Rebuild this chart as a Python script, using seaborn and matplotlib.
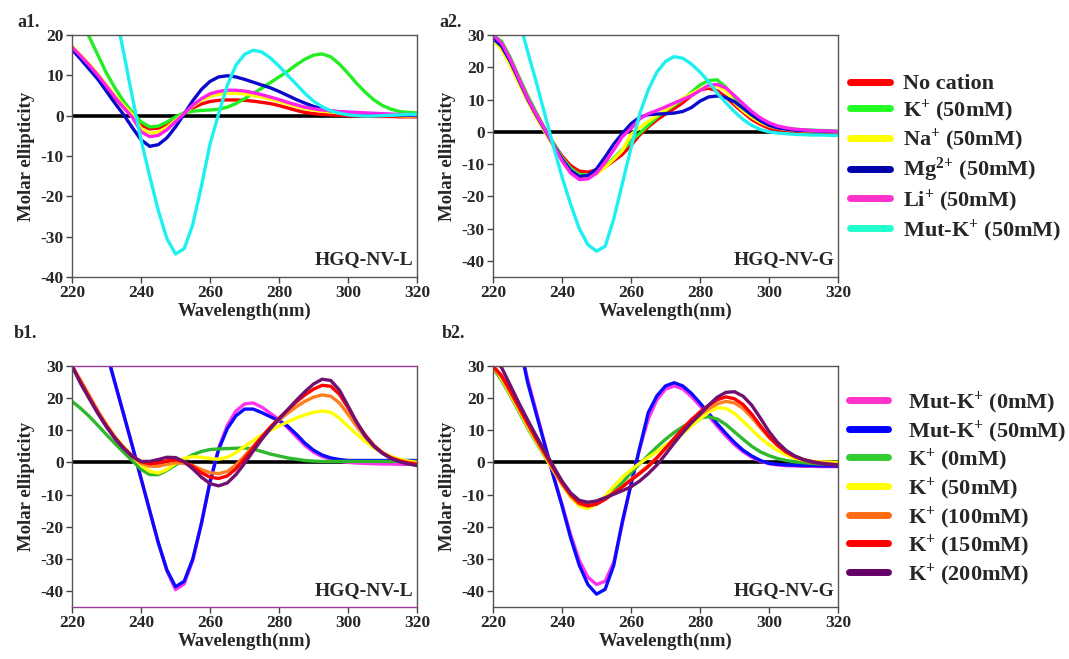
import numpy as np
import pandas as pd
import seaborn as sns
import matplotlib
matplotlib.use("Agg")
import matplotlib.pyplot as plt
from matplotlib.lines import Line2D

# ---------------------------------------------------------------- data
wavelength = np.arange(220.0, 320.01, 2.5)  # nm, 41 points

baseline = [0.0] * 41

# Panel a1: HGQ-NV-L with different cations
a1_no_cation = [16.5, 14.5, 12.3, 9.8, 7.0, 4.3, 2.0, -0.3, -2.3, -3.3, -3.1, -2.2, -0.8, 0.6, 1.9, 2.9,
                3.5, 3.8, 3.9, 3.9, 3.8, 3.6, 3.3, 3.0, 2.5, 1.9, 1.3, 0.8, 0.5, 0.3, 0.2, 0.1, 0.0, -0.1,
                -0.1, -0.2, -0.2, -0.2, -0.3, -0.3, -0.3]
a1_k = [26.0, 23.0, 19.5, 15.0, 10.5, 6.8, 3.5, 0.8, -1.5, -2.8, -2.6, -1.6, -0.3, 0.7, 1.1, 1.3,
        1.4, 1.6, 2.1, 3.0, 4.2, 5.5, 6.8, 8.2, 9.6, 11.0, 12.6, 14.0, 15.0, 15.3, 14.6, 12.8, 10.5, 8.0,
        5.8, 3.9, 2.5, 1.6, 1.0, 0.8, 0.7]
a1_na = [17.3, 15.0, 12.8, 10.3, 7.6, 4.9, 2.5, 0.2, -3.2, -4.4, -4.1, -2.9, -1.2, 0.5, 2.4, 3.8,
         4.8, 5.3, 5.5, 5.5, 5.4, 5.0, 4.6, 4.1, 3.5, 2.9, 2.3, 1.8, 1.4, 1.1, 0.9, 0.7, 0.5, 0.4,
         0.3, 0.2, 0.1, 0.1, 0.0, -0.1, -0.1]
a1_mg = [16.4, 14.0, 11.5, 9.0, 6.0, 3.0, 0.2, -3.0, -6.0, -7.6, -7.2, -5.5, -2.8, 0.4, 3.7, 6.5,
         8.5, 9.6, 9.9, 9.6, 9.0, 8.3, 7.6, 6.9, 6.0, 5.0, 4.0, 3.1, 2.3, 1.7, 1.2, 0.9, 0.7, 0.5,
         0.4, 0.3, 0.3, 0.2, 0.1, 0.1, 0.0]
a1_li = [17.0, 14.8, 12.5, 10.0, 7.3, 4.5, 2.0, -0.4, -4.0, -5.2, -4.9, -3.5, -1.5, 0.5, 2.6, 4.2,
         5.4, 6.0, 6.3, 6.3, 6.1, 5.7, 5.2, 4.6, 4.0, 3.3, 2.7, 2.1, 1.7, 1.4, 1.2, 1.0, 0.9, 0.8,
         0.7, 0.6, 0.5, 0.4, 0.3, 0.3, 0.2]
a1_mut_k = [68.0, 62.0, 55.0, 46.0, 36.0, 26.0, 15.5, 4.5, -6.0, -15.0, -23.5, -30.5, -34.3, -33.0,
            -27.0, -17.5, -7.0, 0.5, 7.5, 12.5, 15.2, 16.2, 15.8, 14.3, 12.3, 10.0, 7.8, 5.5, 3.6,
            2.2, 1.2, 0.6, 0.2, 0.0, -0.1, -0.1, 0.0, 0.1, 0.2, 0.3, 0.3]

# Panel a2: HGQ-NV-G with different cations
a2_no_cation = [29.5, 27.5, 22.5, 16.8, 11.0, 5.8, 0.8, -3.6, -7.5, -10.5, -12.2, -12.5, -11.8, -10.9,
                -9.0, -7.0, -4.2, -1.0, 1.5, 3.7, 5.5, 7.2, 9.0, 11.2, 13.0, 13.5, 12.7, 10.8, 8.3,
                6.0, 3.8, 2.3, 1.1, 0.5, 0.2, 0.1, 0.0, 0.0, 0.0, -0.1, -0.1]
a2_k = [30.0, 28.0, 23.0, 17.0, 11.2, 6.0, 1.0, -3.5, -8.0, -11.3, -13.2, -13.4, -12.5, -10.6, -8.2,
        -5.5, -2.8, -0.5, 2.0, 4.5, 6.5, 8.2, 10.0, 12.2, 14.5, 15.9, 16.1, 13.8, 10.6, 7.8, 5.5,
        3.8, 2.6, 1.7, 1.1, 0.8, 0.6, 0.5, 0.4, 0.3, 0.2]
a2_na = [28.5, 25.5, 20.5, 15.0, 9.5, 4.5, 0.0, -4.5, -8.8, -12.0, -13.7, -14.0, -13.0, -11.0, -8.5,
         -5.8, -0.8, 1.3, 3.2, 5.0, 6.8, 8.6, 10.3, 11.8, 13.2, 14.2, 14.2, 12.8, 9.0, 6.5, 4.5,
         2.9, 1.8, 1.1, 0.7, 0.5, 0.3, 0.2, 0.1, 0.1, 0.0]
a2_mg = [29.0, 26.5, 21.8, 16.0, 10.2, 5.2, 0.6, -4.0, -8.5, -12.0, -13.8, -13.6, -11.5, -7.8, -3.8,
         -0.5, 2.5, 4.5, 5.3, 5.5, 5.6, 5.8, 6.3, 7.5, 9.5, 10.8, 11.1, 10.6, 9.3, 7.3, 5.2, 3.4,
         2.0, 1.2, 0.8, 0.5, 0.4, 0.3, 0.2, 0.1, 0.0]
a2_li = [30.0, 27.5, 22.5, 16.5, 10.5, 5.5, 0.8, -4.0, -9.0, -12.8, -14.8, -14.6, -12.8, -9.5, -5.6,
         -1.5, 1.0, 4.0, 5.6, 6.6, 7.7, 8.9, 10.0, 11.2, 12.8, 14.4, 14.7, 13.6, 11.2, 8.7, 6.3,
         4.3, 2.8, 1.8, 1.2, 0.8, 0.6, 0.4, 0.3, 0.2, 0.1]
a2_mut_k = [62.0, 54.0, 45.0, 35.0, 25.0, 15.5, 5.5, -4.5, -14.0, -22.5, -30.0, -35.0, -37.0, -35.5,
            -27.0, -16.0, -5.0, 5.5, 13.0, 18.5, 21.8, 23.3, 22.8, 21.0, 18.5, 15.5, 12.0, 9.0, 6.2,
            3.8, 2.0, 0.7, 0.0, -0.4, -0.6, -0.8, -0.9, -1.0, -1.0, -1.1, -1.1]

# Panel b1: HGQ-NV-L with increasing K+
b1_mut_k0 = [70.0, 62.0, 54.0, 44.0, 34.3, 24.5, 14.8, 5.0, -5.0, -15.0, -25.0, -33.8, -39.6, -37.8,
             -30.5, -19.0, -6.0, 4.5, 11.5, 16.0, 18.2, 18.5, 17.2, 15.3, 13.2, 10.8, 8.0, 5.3, 3.2,
             1.8, 1.0, 0.4, 0.0, -0.2, -0.3, -0.4, -0.5, -0.5, -0.6, -0.6, -0.6]
b1_mut_k50 = [70.0, 62.0, 54.0, 44.0, 34.3, 24.5, 14.8, 5.0, -5.0, -15.0, -25.0, -33.5, -38.7, -37.0,
              -30.0, -19.0, -6.0, 4.0, 10.5, 14.5, 16.6, 16.6, 15.5, 14.2, 13.0, 11.3, 8.8, 6.0,
              3.8, 2.3, 1.4, 0.9, 0.6, 0.6, 0.6, 0.6, 0.6, 0.6, 0.6, 0.6, 0.6]
b1_k0 = [19.0, 16.8, 14.3, 11.5, 8.6, 5.8, 3.1, 0.5, -2.2, -3.8, -3.8, -2.5, -0.8, 0.9, 2.4, 3.4,
         4.0, 4.2, 4.3, 4.4, 4.5, 4.2, 3.4, 2.6, 2.0, 1.4, 1.0, 0.6, 0.4, 0.3, 0.3, 0.3, 0.3, 0.3,
         0.3, 0.3, 0.3, 0.3, 0.3, 0.3, 0.3]
b1_k50 = [30.0, 25.0, 20.4, 15.8, 11.6, 7.8, 4.8, 1.8, -0.8, -2.8, -3.3, -2.2, -0.3, 1.3, 1.8, 1.6,
          1.2, 1.0, 1.6, 3.0, 5.0, 6.8, 8.5, 10.0, 11.3, 12.6, 13.8, 14.8, 15.6, 16.0, 15.6, 13.8,
          11.2, 8.8, 6.5, 4.5, 3.0, 1.8, 1.0, 0.4, 0.0]
b1_k100 = [30.0, 25.5, 20.8, 16.0, 11.7, 7.8, 4.6, 1.8, -0.3, -1.2, -1.2, -0.6, -0.1, -0.3, -1.0,
           -2.2, -3.2, -3.5, -2.8, -0.8, 2.0, 5.0, 8.0, 10.8, 13.2, 15.3, 17.3, 19.0, 20.3, 21.0,
           20.6, 18.5, 15.0, 11.2, 7.8, 5.0, 2.9, 1.5, 0.6, 0.0, -0.3]
b1_k150 = [30.0, 25.0, 20.2, 15.5, 11.3, 7.6, 4.5, 2.0, 0.2, -0.4, -0.2, 0.5, 0.8, 0.2, -1.3, -3.2,
           -4.6, -5.0, -4.2, -2.0, 1.2, 4.6, 7.9, 11.0, 13.8, 16.3, 18.8, 21.0, 22.8, 24.0, 23.7,
           21.2, 17.0, 12.5, 8.5, 5.3, 3.0, 1.4, 0.4, -0.2, -0.6]
b1_k200 = [30.0, 24.5, 19.8, 15.2, 11.0, 7.3, 4.3, 1.8, 0.3, 0.3, 0.9, 1.6, 1.5, 0.2, -2.0, -4.6,
           -6.6, -7.3, -6.4, -3.8, -0.3, 3.5, 7.2, 10.5, 13.5, 16.4, 19.3, 22.0, 24.4, 25.9, 25.5,
           22.5, 17.6, 12.5, 8.2, 5.0, 2.8, 1.2, 0.2, -0.5, -1.0]

# Panel b2: HGQ-NV-G with increasing K+
b2_mut_k0 = [70.0, 60.0, 50.0, 38.0, 26.0, 16.0, 5.8, -4.0, -13.0, -22.5, -30.5, -35.7, -38.0, -37.0,
             -31.0, -19.0, -6.5, 4.2, 13.5, 19.5, 22.8, 23.8, 22.9, 20.5, 17.6, 14.5, 11.2, 8.2, 5.5,
             3.3, 1.6, 0.4, -0.4, -0.8, -1.0, -1.1, -1.2, -1.2, -1.3, -1.3, -1.3]
b2_mut_k50 = [70.0, 60.0, 50.0, 38.0, 25.0, 15.2, 5.5, -4.3, -13.5, -23.5, -32.0, -38.0, -41.0, -39.5,
              -32.0, -18.3, -6.9, 4.5, 15.5, 20.7, 23.8, 24.8, 23.8, 21.5, 18.5, 15.3, 12.0, 9.0,
              6.2, 3.8, 2.0, 0.6, -0.3, -0.6, -0.8, -0.9, -1.0, -1.0, -1.1, -1.1, -1.2]
b2_k0 = [29.5, 25.5, 20.8, 15.8, 10.8, 6.2, 1.8, -2.5, -6.5, -9.8, -12.0, -12.8, -12.3, -10.8, -8.8,
         -6.3, -3.2, -0.5, 2.2, 4.8, 7.2, 9.3, 11.1, 12.6, 13.8, 14.2, 13.5, 11.8, 9.5, 7.2, 5.0,
         3.3, 2.1, 1.2, 0.6, 0.2, -0.1, -0.3, -0.5, -0.6, -0.7]
b2_k50 = [30.0, 26.0, 21.2, 16.2, 11.2, 6.5, 2.0, -2.5, -7.0, -10.8, -13.6, -14.4, -13.0, -10.5, -7.5,
          -4.6, -2.3, -0.3, 1.6, 3.3, 5.3, 7.0, 9.0, 11.3, 13.5, 15.6, 17.0, 16.8, 15.2, 12.8, 10.2,
          7.6, 5.5, 3.7, 2.3, 1.3, 0.7, 0.3, 0.2, 0.1, 0.0]
b2_k100 = [29.5, 26.5, 21.8, 16.8, 11.8, 7.0, 2.4, -2.2, -6.8, -10.5, -13.0, -13.6, -12.8, -11.2, -9.4,
           -7.5, -5.3, -3.2, -1.0, 1.5, 4.3, 7.2, 10.0, 12.6, 14.8, 16.7, 18.2, 19.0, 18.5, 16.8,
           14.0, 10.8, 7.8, 5.3, 3.3, 1.9, 0.9, 0.3, -0.1, -0.4, -0.6]
b2_k150 = [30.0, 27.0, 22.3, 17.3, 12.3, 7.5, 2.9, -1.8, -6.3, -10.0, -12.6, -13.5, -13.0, -11.5, -9.6,
           -7.6, -5.5, -3.5, -1.3, 1.4, 4.4, 7.5, 10.5, 13.3, 15.7, 17.8, 19.5, 20.4, 19.8, 18.0,
           15.0, 11.4, 8.0, 5.3, 3.2, 1.8, 0.8, 0.1, -0.3, -0.6, -0.8]
b2_k200 = [32.0, 29.5, 24.0, 18.5, 13.3, 8.3, 3.5, -1.2, -5.8, -9.5, -11.8, -12.4, -12.0, -11.0, -9.9,
           -8.8, -7.6, -5.8, -3.5, -0.8, 2.5, 6.0, 9.3, 12.3, 15.0, 17.8, 20.3, 21.8, 22.0, 20.6,
           17.8, 13.8, 9.6, 6.2, 3.7, 2.0, 0.9, 0.2, -0.3, -0.6, -0.8]

a_labels = ["No cation", "K$^{+}$ (50mM)", "Na$^{+}$ (50mM)", "Mg$^{2}$$^{+}$ (50mM)",
            "Li$^{+}$ (50mM)", "Mut-K$^{+}$ (50mM)"]
b_labels = ["Mut-K$^{+}$ (0mM)", "Mut-K$^{+}$ (50mM)", "K$^{+}$ (0mM)", "K$^{+}$ (50mM)",
            "K$^{+}$ (100mM)", "K$^{+}$ (150mM)", "K$^{+}$ (200mM)"]

a_line_colors = ["#FF0000", "#22EE22", "#FFFF00", "#0A0ACC", "#FF22EE", "#1EF0F0"]
a_key_colors = ["#FF0000", "#22FF22", "#FFFF00", "#0000AA", "#FF33CC", "#22FFCC"]
b_line_colors = ["#FF33EE", "#0A0AFF", "#2DB82D", "#FFFF00", "#FF7F20", "#FF0000", "#701070"]
b_key_colors = ["#FF33CC", "#0000FF", "#33CC33", "#FFFF00", "#FF6A13", "#FF0000", "#660066"]

panels = [
    dict(tag="a1.", tag_xy=(17, 27), name="HGQ-NV-L", ylim=(-40, 20), yticks=range(-40, 21, 10),
         series=[a1_no_cation, a1_k, a1_na, a1_mg, a1_li, a1_mut_k], labels=a_labels,
         colors=a_line_colors, rect=[0.0674, 0.5797, 0.3227, 0.3672], edge=None),
    dict(tag="a2.", tag_xy=(439, 27), name="HGQ-NV-G", ylim=(-45, 30), yticks=range(-40, 31, 10),
         series=[a2_no_cation, a2_k, a2_na, a2_mg, a2_li, a2_mut_k], labels=a_labels,
         colors=a_line_colors, rect=[0.4612, 0.5797, 0.3227, 0.3672], edge=None),
    dict(tag="b1.", tag_xy=(14, 338), name="HGQ-NV-L", ylim=(-45, 30), yticks=range(-40, 31, 10),
         series=[b1_mut_k0, b1_mut_k50, b1_k0, b1_k50, b1_k100, b1_k150, b1_k200], labels=b_labels,
         colors=b_line_colors, rect=[0.0674, 0.0789, 0.3227, 0.3657], edge="#9B3A9B"),
    dict(tag="b2.", tag_xy=(442, 338), name="HGQ-NV-G", ylim=(-45, 30), yticks=range(-40, 31, 10),
         series=[b2_mut_k0, b2_mut_k50, b2_k0, b2_k50, b2_k100, b2_k150, b2_k200], labels=b_labels,
         colors=b_line_colors, rect=[0.4612, 0.0789, 0.3227, 0.3657], edge=None),
]

# ---------------------------------------------------------------- style
sns.set_theme(style="white")
plt.rcParams["font.family"] = ["Liberation Serif", "DejaVu Serif"]
plt.rcParams["font.weight"] = "bold"
plt.rcParams["axes.unicode_minus"] = False
plt.rcParams["mathtext.fontset"] = "custom"
plt.rcParams["mathtext.rm"] = "Liberation Serif:bold"
plt.rcParams["mathtext.bf"] = "Liberation Serif:bold"
plt.rcParams["mathtext.it"] = "Liberation Serif:bold"
plt.rcParams["mathtext.default"] = "bf"

W, H = 1069, 659
fig = plt.figure(figsize=(W / 100, H / 100), dpi=100)

for p in panels:
    ax = fig.add_axes(p["rect"])
    frame = pd.DataFrame({"wavelength": wavelength, "value": baseline})
    sns.lineplot(data=frame, x="wavelength", y="value", color="black", lw=2.6,
                 ax=ax, legend=False, sort=False)
    long = pd.concat(
        [pd.DataFrame({"wavelength": wavelength, "value": s, "sample": lab})
         for s, lab in zip(p["series"], p["labels"])],
        ignore_index=True)
    sns.lineplot(data=long, x="wavelength", y="value", hue="sample",
                 hue_order=p["labels"], palette=p["colors"], lw=2.4,
                 ax=ax, legend=False, sort=False)
    ax.set_xlim(220, 320)
    ax.set_ylim(*p["ylim"])
    ax.set_xticks(range(220, 321, 20))
    ax.set_yticks(list(p["yticks"]))
    ax.tick_params(axis="both", direction="out", length=4, width=1, color="#444444",
                   labelsize=12.5, pad=2, bottom=True, left=True)
    for lbl in ax.get_xticklabels() + ax.get_yticklabels():
        lbl.set_fontweight("bold")
    ax.set_xlabel("Wavelength(nm)", fontsize=13.5, fontweight="bold", labelpad=1)
    ax.set_ylabel("Molar ellipticity", fontsize=13.5, fontweight="bold", labelpad=4)
    for side in ["left", "right", "top", "bottom"]:
        ax.spines[side].set_color("#555555")
        ax.spines[side].set_linewidth(1.0)
    if p["edge"]:
        ax.spines["top"].set_color(p["edge"])
        ax.spines["bottom"].set_color(p["edge"])
    ax.text(0.99, 0.035, p["name"], transform=ax.transAxes, ha="right", va="bottom",
            fontsize=14, fontweight="bold")
    tx, ty = p["tag_xy"]
    fig.text(tx / W, 1 - ty / H, p["tag"], fontsize=13, fontweight="bold",
             ha="left", va="baseline")

# keys for the two sample groups
a_handles = [Line2D([], [], color=c, lw=5) for c in a_key_colors]
b_handles = [Line2D([], [], color=c, lw=5) for c in b_key_colors]
fig.legend(a_handles, a_labels, loc="upper left", bbox_to_anchor=(0.795, 0.888),
           frameon=False, fontsize=16, handlelength=1.8, handletextpad=0.6,
           labelspacing=0.13, borderaxespad=0, borderpad=0)
fig.legend(b_handles, b_labels, loc="upper left", bbox_to_anchor=(0.794, 0.409),
           frameon=False, fontsize=16, handlelength=1.75, handletextpad=0.9,
           labelspacing=0.09, borderaxespad=0, borderpad=0)

fig.savefig("out.png", dpi=100, facecolor="white")
